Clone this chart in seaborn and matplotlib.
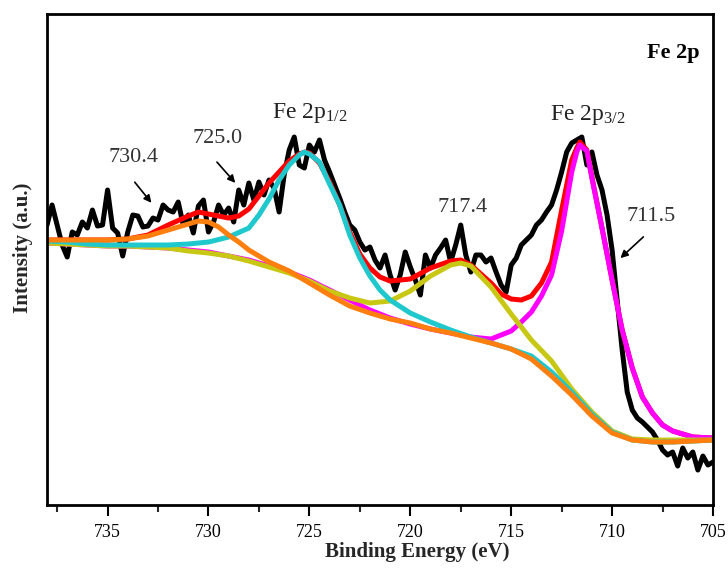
import numpy as np
import pandas as pd
import matplotlib
matplotlib.use("Agg")
import matplotlib.pyplot as plt
import seaborn as sns

# ---------------- data ----------------
# raw spectrum, 0.25 eV step from 738 to 705 eV
energy_raw = np.linspace(738, 705, 133)
intensity_raw = [
    280, 300, 280, 260, 248, 273, 270, 283, 277, 295,
    279, 280, 315, 277, 272, 249, 273, 290, 289, 278,
    279, 287, 285, 300, 295, 293, 303, 280, 290, 272,
    299, 305, 273, 283, 300, 290, 297, 283, 315, 300,
    322, 305, 323, 310, 325, 317, 293, 330, 355, 368,
    340, 337, 360, 353, 365, 345, 333, 320, 307, 293,
    280, 275, 263, 255, 258, 245, 237, 250, 230, 215,
    230, 253, 238, 225, 210, 250, 237, 250, 257, 265,
    243, 260, 280, 250, 233, 250, 250, 243, 247, 233,
    220, 213, 240, 247, 260, 265, 270, 280, 285, 293,
    300, 315, 333, 353, 362, 365, 368, 340, 353, 330,
    315, 290, 255, 205, 155, 113, 95, 87, 83, 78,
    73, 65, 55, 50, 53, 39, 57, 47, 53, 35,
    49, 40, 43,
]

# envelope (red)
energy_env = [738, 737, 736, 735, 734, 733, 732, 731, 730.5, 730, 729.5, 729, 728.5, 728,
              727, 726, 725.5, 725.2, 725, 724.5, 724, 723.5, 723, 722.5, 722, 721.5, 721,
              720, 719, 718, 717.5, 717, 716, 715.5, 715, 714.5, 714, 713.5, 713, 712.5,
              712, 711.75, 711.6, 711.25, 711, 710.5, 710, 709.5, 709, 708.5, 708, 707.5,
              707, 706, 705]
intensity_env = [265, 265, 265, 265, 266, 270, 280, 289, 293, 291, 289, 287, 289, 296,
                 322, 344, 351, 353, 352, 342, 323, 300, 273, 251, 237, 228, 224,
                 226, 237, 244, 245, 240, 222, 211, 206, 205, 209, 222, 243, 295,
                 345, 357, 363, 355, 328, 277, 225, 175, 137, 108, 92, 80,
                 74, 68, 67]

# Fe 2p3/2 component (magenta)
energy_p32 = [738, 737, 736, 735, 734, 733, 732, 731, 730, 729, 728, 727, 726, 725, 724,
              723, 722, 721, 720, 719, 718, 717, 716, 715, 714.5, 714, 713.5, 713, 712.5,
              712, 711.75, 711.6, 711.25, 711, 710.5, 710, 709.5, 709, 708.5, 708, 707.5,
              707, 706, 705]
intensity_p32 = [262, 261, 260, 259, 259, 258, 257, 255, 253, 249, 245, 239, 233, 225, 215,
                 205, 195, 187, 181, 176, 172, 168, 166, 174, 183, 193, 209, 230, 274,
                 333, 353, 360, 354, 327, 277, 225, 175, 137, 108, 92, 80,
                 74, 68, 67]

# satellite 717.4 component (yellow-green)
energy_sat = [738, 737, 736, 735, 734, 733, 732, 731, 730, 729, 728, 727, 726, 725, 724,
              723, 722, 721, 720, 719, 718, 717.5, 717, 716, 715, 714, 713, 712, 711, 710,
              709, 708, 707, 706, 705]
intensity_sat = [262, 261, 260, 259, 259, 258, 257, 254, 252, 249, 244, 238, 232, 224, 214,
                 207, 202, 204, 214, 229, 240, 242, 239, 218, 191, 165, 144, 116, 93, 74,
                 66, 65, 65, 65, 65]

# Fe 2p1/2 component (cyan)
energy_p12 = [738, 737, 736, 735, 734, 733, 732, 731, 730, 729, 728, 727.5, 727, 726.5, 726,
              725.5, 725.25, 725, 724.5, 724, 723.5, 723, 722.5, 722, 721.5, 721, 720, 719,
              718, 717, 716, 715, 714, 713, 712, 711, 710, 709, 708, 707, 706, 705]
intensity_p12 = [264, 263, 261, 260, 260, 260, 260, 261, 263, 268, 277, 290, 306, 325, 340,
                 350, 353, 351, 343, 321, 300, 270, 247, 229, 215, 205, 192, 183,
                 175, 168, 162, 156, 149, 133, 113, 91, 73, 65, 63, 63, 64, 65]

# satellite 730.4 component on background (orange)
energy_s730 = [738, 737, 736, 735, 734, 733, 732, 731, 730.5, 730, 729.5, 729, 728.5, 728,
               727, 726, 725, 724, 723, 722, 721, 720, 719, 718, 717, 716, 715, 714, 713,
               712, 711, 710, 709, 708, 707, 706, 705]
intensity_s730 = [265, 265, 265, 265, 266, 269, 275, 281, 284, 283, 278, 270, 263, 255,
                  243, 234, 222, 210, 199, 192, 186, 182, 176, 172, 167, 162, 156, 146, 129,
                  110, 89, 72, 65, 63, 63, 64, 65]

x_ticks = [735, 730, 725, 720, 715, 710, 705]
x_minor = [737.5, 732.5, 727.5, 722.5, 717.5, 712.5, 707.5]

# ---------------- plotting ----------------
sns.set_style("white")
plt.rcParams['font.family'] = ['Liberation Serif', 'DejaVu Serif']
plt.rcParams['mathtext.fontset'] = 'custom'
plt.rcParams['mathtext.rm'] = 'Liberation Serif'
plt.rcParams['mathtext.it'] = 'Liberation Serif:italic'
plt.rcParams['mathtext.bf'] = 'Liberation Serif:bold'

fig = plt.figure(figsize=(7.28, 5.72), dpi=100)
ax = fig.add_axes([0.0646, 0.1171, 0.9148, 0.8584])

series = [
    (energy_raw, intensity_raw, "black", 3.6),
    (energy_env, intensity_env, "#ff0000", 3.6),
    (energy_p32, intensity_p32, "#ff00ff", 3.6),
    (energy_sat, intensity_sat, "#c8c814", 3.6),
    (energy_p12, intensity_p12, "#1ec8cc", 3.6),
    (energy_s730, intensity_s730, "#ff7f0e", 3.6),
]
for ex, iy, col, lw in series:
    df = pd.DataFrame({"E": ex, "I": iy})
    sns.lineplot(data=df, x="E", y="I", color=col, lw=lw, ax=ax,
                 estimator=None, sort=False)

ax.set_xlim(738, 705)
ax.set_ylim(0, 491)
ax.set_yticks([])
ax.set_xticks(x_ticks)
ax.set_xticks(x_minor, minor=True)
ax.set_xticklabels([str(t) for t in x_ticks])
ax.tick_params(axis='x', which='major', direction='out', length=8, width=1.5,
               labelsize=13, pad=6, bottom=True, colors='black')
ax.tick_params(axis='x', which='minor', direction='out', length=5, width=1.5,
               bottom=True)
for sp in ax.spines.values():
    sp.set_visible(True)
    sp.set_color('black')
    sp.set_linewidth(2)

ax.set_xlabel("Binding Energy (eV)", fontsize=15, fontweight='bold')
ax.xaxis.set_label_coords(0.556, -0.096)
ax.xaxis.label.set_va('center')
ax.set_ylabel("Intensity (a.u.)", fontsize=15, fontweight='bold')
ax.yaxis.set_label_coords(-0.036, 0.523)
ax.yaxis.label.set_va('center')

num_col = '#333333'
ax.text(733.74, 348, "730.4", ha='center', va='center', fontsize=16, color=num_col)
ax.text(729.57, 367, "725.0", ha='center', va='center', fontsize=16, color=num_col)
ax.text(717.42, 298, "717.4", ha='center', va='center', fontsize=16, color=num_col)
ax.text(708.05, 289, "711.5", ha='center', va='center', fontsize=16, color=num_col)

arrow = dict(arrowstyle='-|>', color='black', lw=1.2, mutation_scale=11)
ax.annotate('', xy=(732.74, 300), xytext=(733.74, 325), arrowprops=arrow)
ax.annotate('', xy=(728.58, 320), xytext=(729.67, 345), arrowprops=arrow)
ax.annotate('', xy=(709.69, 245), xytext=(708.35, 270), arrowprops=arrow)

ax.text(726.84, 387, r"Fe 2p$_{\mathregular{1/2}}$", ha='left', va='baseline',
        fontsize=17, color='#222222')
ax.text(713.06, 385, r"Fe 2p$_{\mathregular{3/2}}$", ha='left', va='baseline',
        fontsize=17, color='#222222')
ax.text(705.64, 452, "Fe 2p", ha='right', va='center', fontsize=16,
        fontweight='bold', color='black')

fig.savefig("out.png", dpi=100)
